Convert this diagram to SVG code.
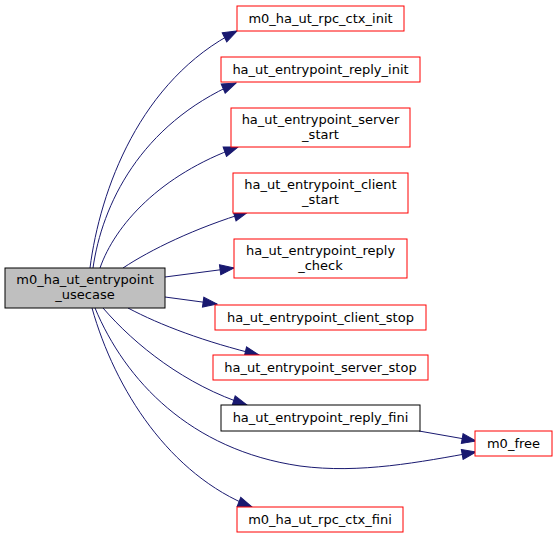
<svg xmlns="http://www.w3.org/2000/svg" width="557" height="539" viewBox="0 0 557 539">
<defs>
<style>
.n rect{fill:#ffffff;stroke:#ff0000;stroke-width:1}
.n.main rect{fill:#bfbfbf;stroke:#000000}
.n.blk rect{stroke:#000000}
text{font-family:"DejaVu Sans","Liberation Sans",sans-serif;font-size:13px;fill:#000000;text-anchor:middle}
.e path{fill:none;stroke:#191970;stroke-width:1}
</style>
<marker id="ah" markerUnits="userSpaceOnUse" markerWidth="16" markerHeight="12" viewBox="-1 -1 16 12" refX="14" refY="5" orient="auto">
<path d="M0,0 L14,5 L0,10 z" fill="#191970" stroke="#191970" stroke-width="1"/>
</marker>
</defs>
<rect width="557" height="539" fill="#ffffff"/>
<g id="edges" class="e">
<path marker-end="url(#ah)" d="M90,268 C100,190 140,80 237,31"/>
<path marker-end="url(#ah)" d="M93,268 C102,205 140,125 236,83"/>
<path marker-end="url(#ah)" d="M100,268 C115,225 160,175 238,147"/>
<path marker-end="url(#ah)" d="M123,268 C150,250 195,228 248,212"/>
<path marker-end="url(#ah)" d="M165,277 L234,268"/>
<path marker-end="url(#ah)" d="M165,297 L217,304"/>
<path marker-end="url(#ah)" d="M128,308 C160,325 205,342 259,355"/>
<path marker-end="url(#ah)" d="M103,308 C135,345 185,385 247,405"/>
<path marker-end="url(#ah)" d="M95,308 C125,380 190,450 300,466 C360,474 420,462 476,452"/>
<path marker-end="url(#ah)" d="M92,308 C115,390 170,475 252,507"/>
<path marker-end="url(#ah)" d="M419,431 L476,441"/>
</g>
<g id="node_main" class="n main">
<rect x="5" y="268" width="160" height="40"/>
<text x="85" y="284">m0_ha_ut_entrypoint</text>
<text x="85" y="299">_usecase</text>
</g>
<g id="node_rpc_ctx_init" class="n">
<rect x="237" y="6" width="167" height="25"/>
<text x="320.5" y="23">m0_ha_ut_rpc_ctx_init</text>
</g>
<g id="node_reply_init" class="n">
<rect x="221" y="57" width="199" height="25"/>
<text x="320.5" y="74">ha_ut_entrypoint_reply_init</text>
</g>
<g id="node_server_start" class="n">
<rect x="231" y="108" width="179" height="39"/>
<text x="320.5" y="123.5">ha_ut_entrypoint_server</text>
<text x="320.5" y="138.5">_start</text>
</g>
<g id="node_client_start" class="n">
<rect x="233" y="173" width="175" height="40"/>
<text x="320.5" y="189">ha_ut_entrypoint_client</text>
<text x="320.5" y="204">_start</text>
</g>
<g id="node_reply_check" class="n">
<rect x="234" y="239" width="173" height="39"/>
<text x="320.5" y="254.5">ha_ut_entrypoint_reply</text>
<text x="320.5" y="269.5">_check</text>
</g>
<g id="node_client_stop" class="n">
<rect x="215" y="305" width="211" height="25"/>
<text x="320.5" y="322">ha_ut_entrypoint_client_stop</text>
</g>
<g id="node_server_stop" class="n">
<rect x="213" y="355" width="215" height="25"/>
<text x="320.5" y="372">ha_ut_entrypoint_server_stop</text>
</g>
<g id="node_reply_fini" class="n blk">
<rect x="221" y="405" width="199" height="26"/>
<text x="320.5" y="422">ha_ut_entrypoint_reply_fini</text>
</g>
<g id="node_m0_free" class="n">
<rect x="475" y="431" width="77" height="25"/>
<text x="513.5" y="448">m0_free</text>
</g>
<g id="node_rpc_ctx_fini" class="n">
<rect x="237" y="507" width="166" height="25"/>
<text x="320" y="524">m0_ha_ut_rpc_ctx_fini</text>
</g>
</svg>
